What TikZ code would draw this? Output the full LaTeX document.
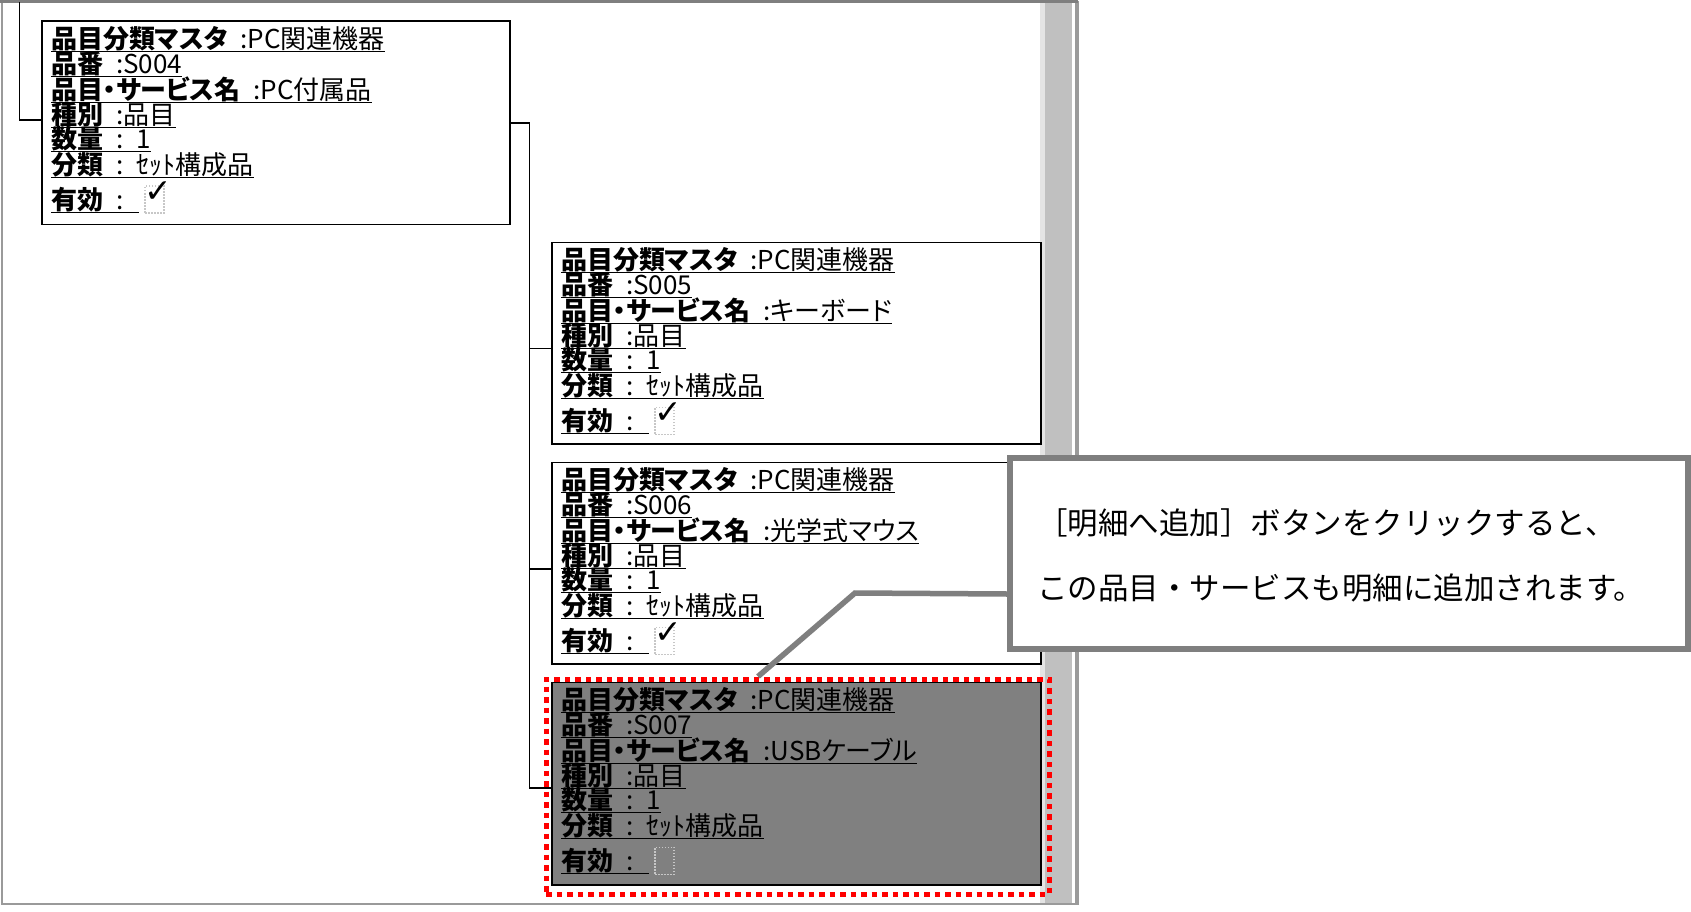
\documentclass[tikz,border=0pt]{standalone}
\usepackage{fontspec}
\setmainfont{Noto Sans CJK JP}
\newfontfamily\jp{Noto Sans CJK JP}[RawFeature=+palt]
\newfontfamily\jpc{Noto Sans CJK JP}
\newfontfamily\dv{DejaVu Sans}
\usetikzlibrary{calc}
\definecolor{calgray}{HTML}{7F7F7F}
\definecolor{boxgray}{HTML}{808080}
\definecolor{sbar}{HTML}{C0C0C0}
\definecolor{sbarlight}{HTML}{E4E4E4}
\definecolor{panelline}{HTML}{9A9A9A}
\tikzset{
  recbox/.style={draw=black, line width=1.8, fill=white, minimum width=489, minimum height=201.6, inner sep=0, anchor=north west},
  ftext/.style={inner sep=0, anchor=base west, font=\jp\fontsize{26}{26}\selectfont},
  uline/.style={line width=1.4},
  conn/.style={line width=1.5, draw=black},
  cbox/.style={draw=black!22, dash pattern=on 1.5 off 1.5, line width=1.2, minimum width=19, minimum height=27, inner sep=0},
  chk/.style={inner sep=0, font=\dv\fontsize{33}{33}\selectfont},
  ctext/.style={inner sep=0, anchor=base west, font=\jpc\fontsize{30.5}{30.5}\selectfont},
  leader/.style={draw=calgray, line width=5.5},
}
\newcommand\recfields[4]{%
  \node[ftext] (#1l1) at ($(#1.north west)+(10,-28)$) {\textbf{品目分類マスタ}\hspace{.5em}:PC関連機器};
  \node[ftext] (#1l2) at ($(#1.north west)+(10,-53)$) {\textbf{品番}\hspace{.5em}:#2};
  \node[ftext] (#1l3) at ($(#1.north west)+(10,-79)$) {\textbf{品目・サービス名}\hspace{.5em}:#3};
  \node[ftext] (#1l4) at ($(#1.north west)+(10,-104)$) {\textbf{種別}\hspace{.5em}:品目};
  \node[ftext] (#1l5) at ($(#1.north west)+(10,-128)$) {\textbf{数量}\hspace{.5em}:\hspace{.5em}1};
  \node[ftext] (#1l6) at ($(#1.north west)+(10,-154)$) {\textbf{分類}\hspace{.5em}:\hspace{.5em}ｾｯﾄ構成品};
  \node[ftext] (#1l7) at ($(#1.north west)+(10,-189)$) {\textbf{有効}\hspace{.5em}:\rule{15pt}{0pt}};
  \foreach \k in {1,...,7}{\draw[uline] ([yshift=-3]#1l\k.base west) -- ([yshift=-3]#1l\k.base east);}
  \node[cbox] (#1cb) at ($(#1.north west)+(113.5,-179)$) {};
  \node[chk] (#1ck) at ($(#1.north west)+(117,-172)$) {#4};
}
\begin{document}
\begin{tikzpicture}[x=1pt,y=1pt]
\useasboundingbox (0,0) rectangle (1691,-912);
% panel and scrollbar
\fill[sbarlight] (1040,-2) rectangle (1045,-904);
\fill[sbar] (1045,-2) rectangle (1072,-904);
\draw[panelline, line width=1.2] (1076,-2) -- (1076,-904);
\draw[panelline, line width=2] (1.5,-2) rectangle (1078,-904);
\draw[calgray, line width=3] (0,-2) -- (1078,-2);
% record boxes
\node[recbox, minimum width=468, minimum height=203] (b1) at (41,-20.5) {};
\node[recbox] (b2) at (551,-241.6) {};
\node[recbox] (b3) at (551,-461.6) {};
\node[recbox, fill=boxgray, minimum height=202.7] (b4) at (551,-681.6) {};
\recfields{b1}{S004}{PC付属品}{✓}
\recfields{b2}{S005}{キーボード}{✓}
\recfields{b3}{S006}{光学式マウス}{✓}
\recfields{b4}{S007}{USBケーブル}{}
% tree connectors
\coordinate (tl) at (19.4,-2);
\coordinate (bus) at (529.5,0);
\coordinate (b1in) at ([yshift=3]b1.west);
\coordinate (b2in) at ([yshift=-5]b2.west);
\coordinate (b3in) at ([yshift=-5.5]b3.west);
\coordinate (b4in) at ([yshift=-4]b4.west);
\draw[conn] (tl) |- (b1in);
\draw[conn] (b1.east) -- (b1.east -| bus) -- (b4in -| bus) -- (b4in);
\draw[conn] (b2in -| bus) -- (b2in);
\draw[conn] (b3in -| bus) -- (b3in);
% highlight
\node[draw=red, line width=5, dash pattern=on 5.5 off 5, minimum width=503, minimum height=215, inner sep=0, anchor=north west] (hl) at (543.5,-676.5) {};
% callout
\node[draw=calgray, line width=6, fill=white, minimum width=678, minimum height=191, inner sep=0, anchor=north west] (c) at (1007,-455) {};
\coordinate (bend) at (855,-593);
\draw[leader] ([yshift=-40.5]c.west) -- (bend) -- ([xshift=214.5]hl.north west);
\node[ctext] (t1) at (1037,-534) {［明細へ追加］ボタンをクリックすると、};
\node[ctext] (t2) at (1037,-599) {この品目・サービスも明細に追加されます。};
\end{tikzpicture}
\end{document}
